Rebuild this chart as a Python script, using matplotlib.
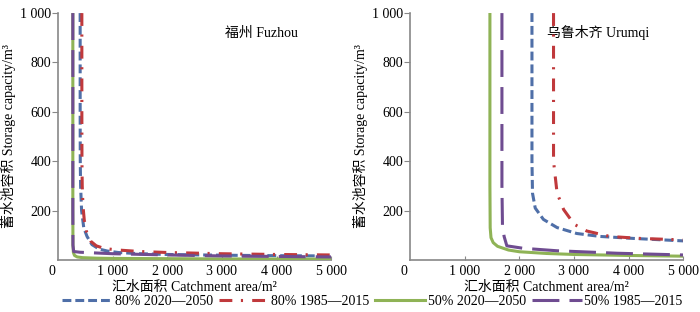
import matplotlib
matplotlib.use("Agg")
import matplotlib.pyplot as plt

plt.rcParams['font.family'] = ['Liberation Serif', 'Noto Sans CJK SC']
plt.rcParams['font.size'] = 10

# 福州 Fuzhou
fz_blue_x = [404, 404, 406, 412, 430, 470, 530, 620, 750, 900, 1100, 1500, 2000, 3000, 4000, 5000]
fz_blue_y = [1000, 600, 400, 300, 200, 130, 95, 62, 44, 36, 30, 25, 22, 19, 17, 16]
fz_red_x = [435, 435, 437, 442, 455, 480, 520, 600, 700, 850, 1100, 1500, 2000, 3000, 4000, 5000]
fz_red_y = [1000, 600, 400, 300, 220, 160, 115, 75, 57, 46, 40, 34, 30, 25, 22, 20]
fz_green_x = [270, 270, 272, 280, 300, 350, 450, 700, 1000, 2000, 3000, 5000]
fz_green_y = [1000, 200, 60, 30, 18, 12, 9, 7, 6, 5, 4, 3]
fz_purple_x = [270, 270, 272, 285, 400, 600, 1000, 2000, 3000, 4000, 5000]
fz_purple_y = [1000, 200, 60, 34, 31, 29, 25, 20, 16, 14, 12]

# 乌鲁木齐 Urumqi
ur_blue_x = [2230, 2230, 2240, 2290, 2440, 2690, 3050, 3480, 4090, 5000]
ur_blue_y = [1000, 400, 270, 210, 164, 131, 107, 95, 87, 77]
ur_red_x = [2625, 2625, 2690, 2810, 3005, 3235, 3660, 4210, 5000]
ur_red_y = [1000, 400, 271, 204, 144, 117, 95, 87, 81]
ur_green_x = [1460, 1460, 1465, 1480, 1520, 1600, 1800, 2000, 2500, 3000, 4000, 5000]
ur_green_y = [1000, 300, 130, 90, 70, 55, 40, 33, 26, 22, 18, 15]
ur_purple_x = [1680, 1680, 1690, 1720, 1770, 2070, 2690, 3790, 5000]
ur_purple_y = [1000, 300, 140, 95, 57, 47, 37, 27, 20]

labels = ['80% 2020—2050', '80% 1985—2015', '50% 2020—2050', '50% 1985—2015']
colors = ['#4f6fa8', '#c0393c', '#8fb356', '#6f4c91']
styles = [(0, (2.9, 1.3)), (0, (4.2, 2.8, 0.7, 3.0)), '-', (0, (8.8, 3.3))]

fuzhou = [(fz_blue_x, fz_blue_y), (fz_red_x, fz_red_y), (fz_green_x, fz_green_y), (fz_purple_x, fz_purple_y)]
urumqi = [(ur_blue_x, ur_blue_y), (ur_red_x, ur_red_y), (ur_green_x, ur_green_y), (ur_purple_x, ur_purple_y)]

fig = plt.figure(figsize=(7, 3.12), dpi=100)
ax1 = fig.add_axes([0.083, 0.167, 0.39, 0.791])
ax2 = fig.add_axes([0.586, 0.167, 0.39, 0.791])

order = [2, 3, 0, 1]
for ax, data, name in [(ax1, fuzhou, '福州 Fuzhou'), (ax2, urumqi, '乌鲁木齐 Urumqi')]:
    for i in order:
        x, y = data[i]
        ax.plot(x, y, color=colors[i], linestyle=styles[i], linewidth=2.2,
                label=labels[i], zorder=3 + i)
    ax.set_xlim(0, 5000)
    ax.set_ylim(0, 1000)
    ax.set_xticks([1000, 2000, 3000, 4000, 5000])
    ax.set_xticklabels(['1 000', '2 000', '3 000', '4 000', '5 000'])
    ax.set_yticks([200, 400, 600, 800, 1000])
    ax.set_yticklabels(['200', '400', '600', '800', '1 000'])
    ax.tick_params(axis='x', direction='in', length=3, pad=4, color='#888888')
    ax.tick_params(axis='y', direction='out', length=4, pad=1, color='#888888')
    for s in ['top', 'right']:
        ax.spines[s].set_visible(False)
    for s in ['left', 'bottom']:
        ax.spines[s].set_color('#888888')
        ax.spines[s].set_linewidth(1.2)
    ax.text(-110, -22, '0', ha='center', va='top')
    ax.set_xlabel('汇水面积 Catchment area/m²', labelpad=2)
    ax.set_ylabel('蓄水池容积 Storage capacity/m³', labelpad=3)
    ax.text(0.745 if ax is ax1 else 0.69, 0.92, name, transform=ax.transAxes,
            ha='center', va='center')

handles, labs = ax1.get_legend_handles_labels()
hmap = dict(zip(labs, handles))
fig.legend([hmap[l] for l in labels], labels, loc='center', ncol=4,
           bbox_to_anchor=(0.532, 0.034), frameon=False, handlelength=3.6,
           handletextpad=0.2, columnspacing=0.4)

fig.savefig('out.png', dpi=100)
